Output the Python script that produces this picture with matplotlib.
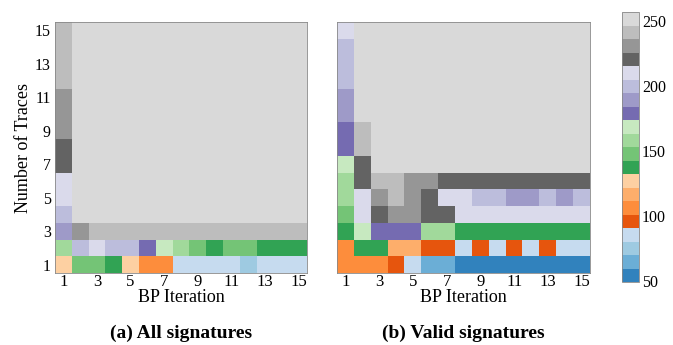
import matplotlib
matplotlib.use("Agg")
import matplotlib.pyplot as plt
import numpy as np

plt.rcParams["font.family"] = ["Liberation Serif", "DejaVu Serif"]

iterations = list(range(1, 16))
traces = list(range(1, 16))
tick_vals = [1, 3, 5, 7, 9, 11, 13, 15]
cbar_ticks = [50, 100, 150, 200, 250]

# rows = number of traces 1..15 (bottom to top), columns = BP iteration 1..15
all_sigs = [
    [127, 148, 148, 137, 127, 106, 106, 85, 85, 85, 85, 75, 85, 85, 85],
    [158, 200, 210, 200, 200, 179, 169, 158, 148, 137, 148, 148, 137, 137, 137],
    [189, 231, 241, 241, 241, 241, 241, 241, 241, 241, 241, 241, 241, 241, 241],
    [200] + [252] * 14,
    [210] + [252] * 14,
    [210] + [252] * 14,
    [221] + [252] * 14,
    [221] + [252] * 14,
    [231] + [252] * 14,
    [231] + [252] * 14,
    [231] + [252] * 14,
    [241] + [252] * 14,
    [241] + [252] * 14,
    [241] + [252] * 14,
    [241] + [252] * 14,
]

valid_sigs = [
    [106, 106, 106, 96, 85, 65, 65, 54, 54, 54, 54, 54, 54, 54, 54],
    [106, 137, 137, 117, 117, 96, 96, 85, 96, 85, 96, 85, 96, 85, 85],
    [137, 169, 179, 179, 179, 158, 158, 137, 137, 137, 137, 137, 137, 137, 137],
    [148, 210, 221, 231, 231, 221, 221, 210, 210, 210, 210, 210, 210, 210, 210],
    [158, 210, 231, 241, 231, 221, 210, 210, 200, 200, 189, 189, 200, 189, 200],
    [158, 221, 241, 241, 231, 231, 221, 221, 221, 221, 221, 221, 221, 221, 221],
    [169, 221] + [252] * 13,
    [179, 241] + [252] * 13,
    [179, 241] + [252] * 13,
    [189] + [252] * 14,
    [189] + [252] * 14,
    [200] + [252] * 14,
    [200] + [252] * 14,
    [200] + [252] * 14,
    [210] + [252] * 14,
]

vmin, vmax = 49, 257
cmap = plt.get_cmap("tab20c")

fig = plt.figure(figsize=(6.73, 3.45), dpi=100)
ax1 = fig.add_axes([0.0817, 0.2087, 0.3744, 0.7275])
ax2 = fig.add_axes([0.5007, 0.2087, 0.3759, 0.7275])
cax = fig.add_axes([0.9242, 0.1826, 0.0253, 0.7826])

ext = [0.5, 15.5, 0.5, 15.5]
for ax, data, cap in [(ax1, all_sigs, "(a) All signatures"),
                      (ax2, valid_sigs, "(b) Valid signatures")]:
    im = ax.imshow(np.array(data), origin="lower", extent=ext, cmap=cmap,
                   vmin=vmin, vmax=vmax, aspect="auto", interpolation="nearest")
    ax.set_xticks(tick_vals)
    ax.set_yticks(tick_vals)
    ax.tick_params(axis="x", length=0, pad=1, labelsize=12)
    ax.tick_params(axis="y", length=0, pad=3, labelsize=11.5)
    ax.set_xlabel("BP Iteration", fontsize=13, labelpad=-1)
    for s in ax.spines.values():
        s.set_color("#888888")
        s.set_linewidth(0.6)
    ax.text(0.5, -0.24, cap, transform=ax.transAxes, ha="center", va="center",
            fontsize=14, fontweight="bold")

ax1.set_ylabel("Number of Traces", fontsize=13, labelpad=2)
ax2.set_yticklabels([])

cb = fig.colorbar(im, cax=cax, ticks=cbar_ticks)
cb.ax.tick_params(length=0, pad=2, labelsize=11.5)
cb.outline.set_edgecolor("#888888")
cb.outline.set_linewidth(0.6)

fig.savefig("out.png", dpi=100)
